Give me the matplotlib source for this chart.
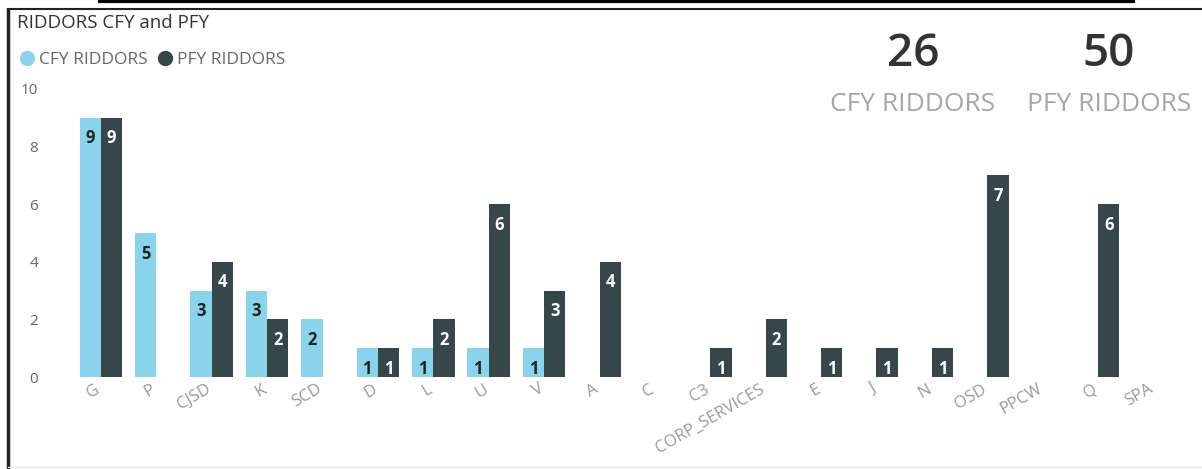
import numpy as np
import matplotlib.pyplot as plt
import matplotlib.transforms as mtransforms
from matplotlib.lines import Line2D

categories = ['G', 'P', 'CJSD', 'K', 'SCD', 'D', 'L', 'U', 'V', 'A', 'C', 'C3',
              'CORP_SERVICES', 'E', 'J', 'N', 'OSD', 'PPCW', 'Q', 'SPA']
cfy = [9, 5, 3, 3, 2, 1, 1, 1, 1, 0, 0, 0, 0, 0, 0, 0, 0, 0, 0, 0]
pfy = [9, 0, 4, 2, 0, 1, 2, 6, 3, 4, 0, 1, 2, 1, 1, 1, 7, 0, 6, 0]
cfy_total = 26
pfy_total = 50

c_cfy = '#8AD4EB'
c_pfy = '#374649'
grey = '#999999'

plt.rcParams['font.family'] = ['Open Sans', 'DejaVu Sans']

W, H = 1202, 469
fig = plt.figure(figsize=(W / 100, H / 100), dpi=100)

# axes placed in pixel coords: left 45, right 1195, y=0 at 377, y=10 at 89
ax = fig.add_axes([45 / W, (H - 377) / H, 1150 / W, (377 - 89) / H])
x = np.arange(len(categories))
bw = 0.385
b1 = ax.bar(x - bw / 2, cfy, bw, color=c_cfy)
b2 = ax.bar(x + bw / 2, pfy, bw, color=c_pfy)

for bars, vals, col in [(b1, cfy, '#222222'), (b2, pfy, 'white')]:
    for b, v in zip(bars, vals):
        if v > 0:
            ax.text(b.get_x() + b.get_width() / 2, v - 0.4, str(v), ha='center', va='top',
                    fontsize=12, fontweight='bold', color=col)

ax.set_xlim(-1.01, 19.75)
ax.set_ylim(0, 10)
ax.set_yticks([0, 2, 4, 6, 8, 10])
ax.tick_params(axis='y', length=0, labelsize=11, labelcolor='#666666', pad=5)
ax.set_xticks(x)
ax.set_xticklabels(categories, rotation=30, ha='right', va='top', rotation_mode='anchor')
ax.tick_params(axis='x', length=0, labelsize=12, labelcolor=grey, pad=3)
shift = mtransforms.ScaledTranslation(-6 / 100, 0, fig.dpi_scale_trans)
for lab in ax.get_xticklabels():
    lab.set_transform(lab.get_transform() + shift)
for s in ax.spines.values():
    s.set_visible(False)

# title and legend
fig.text(17 / W, 1 - 23 / H, 'RIDDORS CFY and PFY', fontsize=13.5, color='#333333', va='center')
handles = [Line2D([], [], marker='o', ls='', ms=10, color=c_cfy),
           Line2D([], [], marker='o', ls='', ms=10, color=c_pfy)]
fig.legend(handles, ['CFY RIDDORS', 'PFY RIDDORS'], loc='center left',
           bbox_to_anchor=(20 / W, 1 - 60 / H), ncol=2, frameon=False, fontsize=12.5,
           labelcolor='#666666', handletextpad=0.3, columnspacing=0.6, handlelength=0.8,
           borderaxespad=0, borderpad=0)

# cards
fig.text(913 / W, 1 - 55 / H, str(cfy_total), fontsize=33, fontweight='semibold',
         color='#333333', ha='center', va='center')
fig.text(913 / W, 1 - 104 / H, 'CFY RIDDORS', fontsize=19, color='#a6a6a6', ha='center', va='center')
fig.text(1109 / W, 1 - 55 / H, str(pfy_total), fontsize=33, fontweight='semibold',
         color='#333333', ha='center', va='center')
fig.text(1109 / W, 1 - 104 / H, 'PFY RIDDORS', fontsize=19, color='#a6a6a6', ha='center', va='center')

# frame lines
fig.add_artist(Line2D([8 / W, 8 / W], [1 - 10 / H, 0], color='#222222', lw=2.5, transform=fig.transFigure))
fig.add_artist(Line2D([8 / W, 1], [1 - 9 / H, 1 - 9 / H], color='#222222', lw=1.5, transform=fig.transFigure))
fig.add_artist(Line2D([100 / W, 1133 / W], [1 - 1.5 / H, 1 - 1.5 / H], color='black', lw=3, transform=fig.transFigure))
fig.add_artist(Line2D([8 / W, 1], [1 - 467 / H, 1 - 467 / H], color='#e8e8e8', lw=1, transform=fig.transFigure))

fig.savefig('out.png', dpi=100)
